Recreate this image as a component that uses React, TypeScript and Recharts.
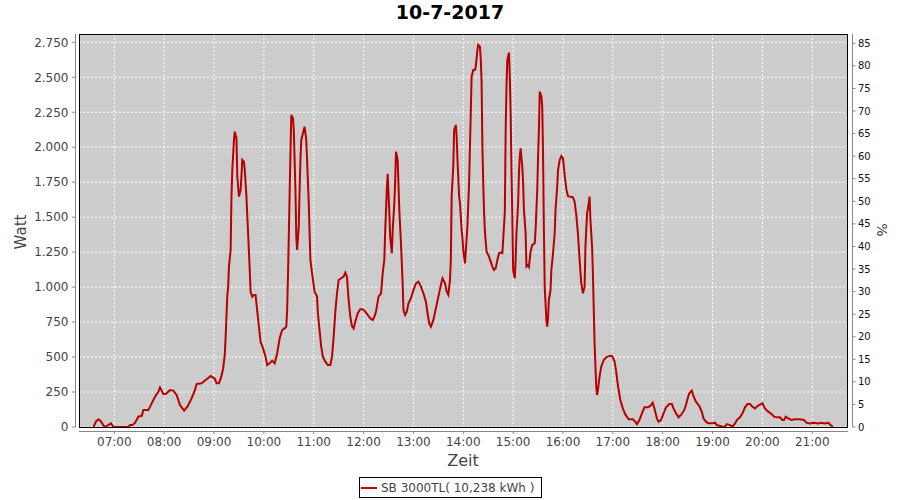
import { CartesianGrid, Line, LineChart, XAxis, YAxis } from "recharts";

// power readings (time of day -> watt)
const times = [
  "06:35", "06:38", "06:41", "06:44", "06:47", "06:49", "06:53", "06:56", "06:59", "07:17",
  "07:19", "07:22", "07:25", "07:29", "07:33", "07:35", "07:41", "07:45", "07:49", "07:53",
  "07:55", "07:59", "08:02", "08:07", "08:11", "08:15", "08:19", "08:24", "08:28", "08:33",
  "08:37", "08:39", "08:45", "08:50", "08:56", "09:01", "09:03", "09:06", "09:09", "09:11",
  "09:13", "09:14", "09:16", "09:17", "09:18", "09:20", "09:21", "09:22", "09:24", "09:25",
  "09:27", "09:28", "09:30", "09:32", "09:33", "09:34", "09:36", "09:37", "09:39", "09:40",
  "09:41", "09:43", "09:44", "09:46", "09:48", "09:50", "09:52", "09:54", "09:56", "09:59",
  "10:02", "10:04", "10:07", "10:10", "10:13", "10:16", "10:19", "10:22", "10:25", "10:27",
  "10:28", "10:29", "10:31", "10:32", "10:33", "10:35", "10:36", "10:38", "10:39", "10:40",
  "10:42", "10:43", "10:44", "10:45", "10:48", "10:49", "10:51", "10:52", "10:54", "10:56",
  "10:58", "11:01", "11:04", "11:05", "11:07", "11:09", "11:11", "11:14", "11:17", "11:20",
  "11:22", "11:24", "11:26", "11:28", "11:30", "11:33", "11:36", "11:38", "11:40", "11:42",
  "11:44", "11:46", "11:48", "11:50", "11:53", "11:56", "11:59", "12:02", "12:05", "12:08",
  "12:11", "12:13", "12:15", "12:18", "12:21", "12:23", "12:25", "12:26", "12:28", "12:29",
  "12:31", "12:32", "12:34", "12:35", "12:37", "12:38", "12:39", "12:41", "12:43", "12:45",
  "12:47", "12:48", "12:50", "12:52", "12:54", "12:57", "13:00", "13:03", "13:06", "13:09",
  "13:12", "13:15", "13:17", "13:19", "13:21", "13:24", "13:27", "13:30", "13:33", "13:35",
  "13:38", "13:40", "13:42", "13:44", "13:45", "13:46", "13:48", "13:49", "13:51", "13:52",
  "13:53", "13:55", "13:56", "13:58", "13:59", "14:00", "14:02", "14:03", "14:05", "14:07",
  "14:08", "14:09", "14:10", "14:12", "14:14", "14:15", "14:17", "14:18", "14:20", "14:21",
  "14:22", "14:23", "14:24", "14:25", "14:26", "14:28", "14:31", "14:33", "14:35", "14:37",
  "14:39", "14:41", "14:43", "14:45", "14:47", "14:48", "14:50", "14:51", "14:52", "14:53",
  "14:55", "14:56", "14:57", "14:58", "14:59", "15:00", "15:02", "15:03", "15:04", "15:06",
  "15:07", "15:08", "15:09", "15:11", "15:12", "15:13", "15:15", "15:16", "15:18", "15:19",
  "15:21", "15:23", "15:26", "15:27", "15:29", "15:30", "15:31", "15:32", "15:34", "15:35",
  "15:36", "15:37", "15:38", "15:40", "15:41", "15:42", "15:43", "15:45", "15:46", "15:48",
  "15:50", "15:51", "15:53", "15:54", "15:56", "15:58", "16:00", "16:02", "16:04", "16:06",
  "16:09", "16:12", "16:14", "16:16", "16:18", "16:20", "16:22", "16:24", "16:26", "16:27",
  "16:29", "16:31", "16:32", "16:33", "16:35", "16:36", "16:38", "16:40", "16:41", "16:42",
  "16:44", "16:46", "16:49", "16:52", "16:56", "16:59", "17:02", "17:04", "17:06", "17:09",
  "17:12", "17:15", "17:19", "17:24", "17:27", "17:29", "17:32", "17:35", "17:38", "17:42",
  "17:45", "17:48", "17:50", "17:53", "17:55", "17:58", "18:01", "18:04", "18:08", "18:11",
  "18:13", "18:16", "18:19", "18:22", "18:26", "18:28", "18:30", "18:32", "18:35", "18:37",
  "18:40", "18:44", "18:47", "18:49", "18:52", "18:55", "18:59", "19:03", "19:05", "19:09",
  "19:12", "19:15", "19:17", "19:21", "19:24", "19:27", "19:30", "19:33", "19:36", "19:39",
  "19:42", "19:45", "19:48", "19:51", "19:54", "19:58", "20:00", "20:03", "20:07", "20:11",
  "20:14", "20:17", "20:21", "20:24", "20:26", "20:28", "20:31", "20:35", "20:39", "20:45",
  "20:50", "20:53", "20:57", "21:02", "21:07", "21:11", "21:15", "21:19", "21:22", "21:25",
];

const watts = [
  0, 40, 55, 40, 10, 0, 15, 26, 0, 0,
  14, 14, 31, 74, 80, 121, 121, 169, 217, 252,
  283, 236, 236, 264, 260, 229, 157, 117, 145, 205,
  264, 307, 312, 336, 364, 345, 312, 312, 365, 420,
  520, 646, 940, 1000, 1150, 1265, 1647, 1837, 2052, 2111,
  2064, 1790, 1647, 1694, 1790, 1909, 1897, 1837, 1647, 1516,
  1385, 1122, 967, 932, 944, 944, 830, 720, 610, 562,
  503, 443, 455, 474, 455, 527, 634, 693, 705, 717,
  836, 1075, 1670, 1956, 2230, 2207, 2123, 1694, 1361, 1265,
  1432, 1694, 1909, 2052, 2123, 2147, 2052, 1909, 1599, 1194,
  1099, 967, 932, 813, 693, 574, 503, 467, 443, 443,
  503, 646, 825, 955, 1051, 1063, 1075, 1103, 1075, 908,
  789, 722, 705, 753, 813, 841, 841, 825, 801, 777,
  765, 789, 825, 932, 955, 1100, 1200, 1400, 1700, 1809,
  1528, 1361, 1242, 1400, 1600, 1750, 1968, 1909, 1551, 1313,
  1027, 836, 801, 825, 884, 920, 979, 1027, 1039, 1003,
  956, 896, 813, 741, 717, 765, 848, 932, 1015, 1063,
  1027, 967, 944, 1051, 1194, 1647, 1873, 2123, 2159, 2076,
  1909, 1647, 1600, 1408, 1349, 1265, 1170, 1253, 1440, 1750,
  2004, 2242, 2504, 2552, 2552, 2576, 2695, 2731, 2719, 2636,
  2469, 2004, 1742, 1539, 1396, 1253, 1218, 1182, 1146, 1122,
  1134, 1194, 1242, 1246, 1242, 1337, 1539, 2123, 2433, 2624,
  2676, 2504, 2242, 1837, 1504, 1122, 1063, 1194, 1385, 1599,
  1814, 1933, 1992, 1861, 1742, 1551, 1385, 1146, 1158, 1146,
  1253, 1301, 1313, 1408, 1694, 1933, 2123, 2397, 2362, 2290,
  1950, 1408, 1000, 765, 717, 777, 908, 979, 1122, 1242,
  1385, 1551, 1718, 1837, 1909, 1937, 1920, 1800, 1700, 1650,
  1645, 1642, 1610, 1515, 1380, 1194, 1027, 956, 1003, 1289,
  1528, 1599, 1647, 1480, 1289, 1099, 600, 288, 229, 264,
  360, 431, 479, 498, 508, 508, 470, 396, 300, 193,
  133, 90, 55, 55, 38, 21, 50, 98, 141, 141,
  150, 174, 133, 62, 38, 50, 98, 141, 164, 164,
  133, 98, 69, 86, 122, 157, 205, 241, 260, 222,
  181, 150, 110, 62, 38, 26, 26, 31, 14, 7,
  2, 2, 21, 14, 2, 26, 55, 69, 98, 141,
  164, 164, 145, 133, 150, 164, 169, 133, 110, 93,
  74, 69, 69, 50, 50, 74, 62, 50, 55, 55,
  50, 31, 26, 31, 26, 31, 26, 31, 14, 0,
];

const hourTicks = [420, 480, 540, 600, 660, 720, 780, 840, 900, 960, 1020, 1080, 1140, 1200, 1260];
const wattTicks = [0, 250, 500, 750, 1000, 1250, 1500, 1750, 2000, 2250, 2500, 2750];
const percentTicks = [0, 5, 10, 15, 20, 25, 30, 35, 40, 45, 50, 55, 60, 65, 70, 75, 80, 85];

const title = "10-7-2017";
const seriesName = "SB 3000TL( 10,238 kWh )";

const LINE_COLOR = "#b80000";
const FONT = "'DejaVu Sans', sans-serif";

// plot box (page px)
const PLOT = { left: 79, top: 34, right: 848, bottom: 427 };

const toMinutes = (s: string) => {
  const [h, m] = s.split(":").map(Number);
  return h * 60 + m;
};

const data = times.map((t, i) => ({ t: toMinutes(t), watt: watts[i] }));

const fmtHour = (v: number) => `${String(Math.floor(v / 60)).padStart(2, "0")}:00`;
const fmtWatt = (v: number) =>
  v >= 1000 ? `${Math.floor(v / 1000)}.${String(v % 1000).padStart(3, "0")}` : String(v);

const XTick = ({ x, payload }: any) => (
  <g>
    <line x1={x} x2={x} y1={PLOT.bottom + 4} y2={PLOT.bottom + 7} stroke="#888" />
    <text x={x} y={446} textAnchor="middle" fontSize={12} fontFamily={FONT} fill="#444">
      {fmtHour(payload.value)}
    </text>
  </g>
);

const LeftTick = ({ y, payload }: any) => (
  <g>
    <line x1={72} x2={75.5} y1={y} y2={y} stroke="#888" />
    <text x={68.5} y={y} dy={4.3} textAnchor="end" fontSize={12} fontFamily={FONT} fill="#444">
      {fmtWatt(payload.value)}
    </text>
  </g>
);

const RightTick = ({ y, payload }: any) => (
  <g>
    <line x1={852.5} x2={855.5} y1={y} y2={y} stroke="#888" />
    <text x={858} y={y} dy={3.6} textAnchor="start" fontSize={10} fontFamily={FONT} fill="#111">
      {payload.value}
    </text>
  </g>
);

export default function App() {
  return (
    <div style={{ position: "absolute", left: 0, top: 0, width: 900, height: 500, background: "#fff" }}>
      <LineChart
        width={900}
        height={500}
        data={data}
        margin={{ top: PLOT.top, right: 0, bottom: 0, left: 0 }}
      >
        <CartesianGrid
          yAxisId="left"
          fill="#cccccc"
          stroke="#ffffff"
          strokeDasharray="2 2"
          horizontalValues={wattTicks}
          verticalValues={hourTicks}
        />
        <XAxis
          dataKey="t"
          type="number"
          domain={[377.5, 1303]}
          allowDataOverflow
          ticks={hourTicks}
          interval={0}
          height={500 - PLOT.bottom}
          axisLine={false}
          tickLine={false}
          tick={<XTick />}
        />
        <YAxis
          yAxisId="left"
          type="number"
          domain={[0, 2809]}
          allowDataOverflow
          ticks={wattTicks}
          interval={0}
          width={PLOT.left}
          axisLine={false}
          tickLine={false}
          tick={<LeftTick />}
        />
        <YAxis
          yAxisId="right"
          orientation="right"
          type="number"
          domain={[0, 87.06]}
          allowDataOverflow
          ticks={percentTicks}
          interval={0}
          width={900 - PLOT.right}
          axisLine={false}
          tickLine={false}
          tick={<RightTick />}
        />
        <Line
          yAxisId="left"
          type="linear"
          dataKey="watt"
          stroke={LINE_COLOR}
          strokeWidth={2}
          dot={false}
          isAnimationActive={false}
        />
      </LineChart>

      {/* frame, axis lines, titles and legend drawn on top */}
      <svg
        width={900}
        height={500}
        style={{ position: "absolute", left: 0, top: 0, pointerEvents: "none" }}
      >
        <rect
          x={PLOT.left + 0.5}
          y={PLOT.top + 0.5}
          width={PLOT.right - PLOT.left - 1}
          height={PLOT.bottom - PLOT.top}
          fill="none"
          stroke="#000"
        />
        <line x1={75.5} x2={75.5} y1={PLOT.top} y2={PLOT.bottom} stroke="#888" />
        <line x1={PLOT.left} x2={PLOT.right} y1={431.5} y2={431.5} stroke="#888" />
        <line x1={852.5} x2={852.5} y1={PLOT.top} y2={PLOT.bottom} stroke="#888" />

        <text x={450} y={19} textAnchor="middle" fontSize={19} fontWeight="bold" fontFamily={FONT} fill="#000">
          {title}
        </text>
        <text
          transform="translate(26 232) rotate(-90)"
          textAnchor="middle"
          fontSize={15}
          fontFamily={FONT}
          fill="#444"
        >
          Watt
        </text>
        <text
          transform="translate(877 230) rotate(90)"
          textAnchor="middle"
          fontSize={14}
          fontFamily={FONT}
          fill="#444"
        >
          %
        </text>
        <text x={463} y={465.5} textAnchor="middle" fontSize={16} fontFamily={FONT} fill="#444">
          Zeit
        </text>

        <rect x={359.5} y={477.5} width={182} height={20} fill="#fff" stroke="#000" />
        <line x1={361} x2={377} y1={488} y2={488} stroke={LINE_COLOR} strokeWidth={2} />
        <text x={381} y={491.5} fontSize={12} fontFamily={FONT} fill="#444">
          {seriesName}
        </text>
      </svg>
    </div>
  );
}
